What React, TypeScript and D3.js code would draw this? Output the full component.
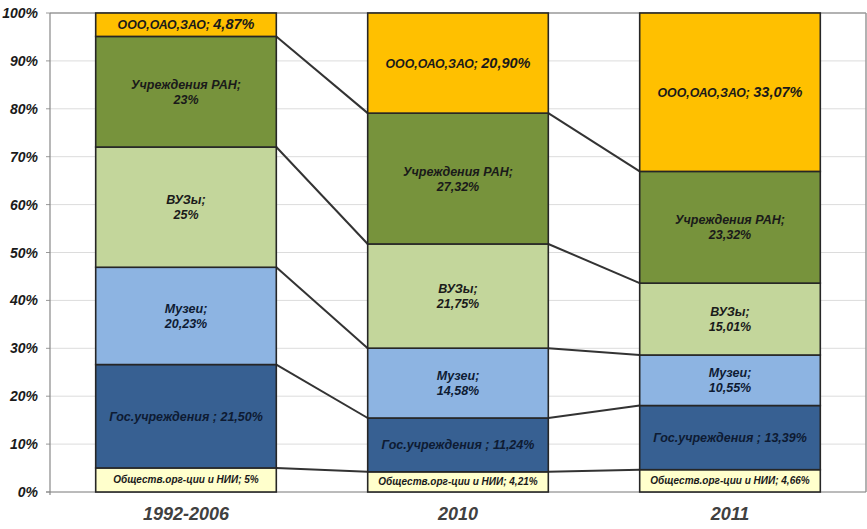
import React from "react";
import * as d3 from "d3";

const categories = ["1992-2006", "2010", "2011"];
const seriesNames = [
  "Обществ.орг-ции и НИИ",
  "Гос.учреждения ",
  "Музеи",
  "ВУЗы",
  "Учреждения РАН",
  "ООО,ОАО,ЗАО",
];
const obshch = [5, 4.21, 4.66];
const gos = [21.5, 11.24, 13.39];
const muzei = [20.23, 14.58, 10.55];
const vuzy = [25, 21.75, 15.01];
const ran = [23, 27.32, 23.32];
const ooo = [4.87, 20.9, 33.07];
const seriesValues = [obshch, gos, muzei, vuzy, ran, ooo];
const seriesColors = ["#FFFFCC", "#376092", "#8DB4E2", "#C3D69B", "#77933C", "#FFC000"];
const yTicks = [0, 0.1, 0.2, 0.3, 0.4, 0.5, 0.6, 0.7, 0.8, 0.9, 1];

const W = 867;
const H = 529;
const left = 50;
const right = 866;
const top = 13;
const bottom = 492;

function fmt(v: number) {
  const s = Number.isInteger(v) ? String(v) : v.toFixed(2).replace(".", ",");
  return s + "%";
}

export default function App() {
  const rows = categories.map((c, i) => {
    const r: any = { cat: c };
    seriesNames.forEach((s, j) => (r[s] = seriesValues[j][i]));
    return r;
  });
  const stack = d3.stack<any>().keys(seriesNames).offset(d3.stackOffsetExpand);
  const stacked = stack(rows);

  const x = d3.scaleBand().domain(categories).range([left, right]).paddingInner(0.336).paddingOuter(0.168);
  const y = d3.scaleLinear().domain([0, 1]).range([bottom, top]);
  const bw = x.bandwidth();

  const font = "'Liberation Sans', Arial, sans-serif";

  const connectors: any[] = [];
  stacked.forEach((layer, j) => {
    if (j === stacked.length - 1) return;
    for (let i = 0; i < categories.length - 1; i++) {
      const x1 = (x(categories[i]) as number) + bw;
      const x2 = x(categories[i + 1]) as number;
      connectors.push(
        <line key={`c${j}-${i}`} x1={x1} x2={x2} y1={y(layer[i][1])} y2={y(layer[i + 1][1])} stroke="#333" strokeWidth={2} />
      );
    }
  });

  return (
    <div style={{ position: "absolute", left: 0, top: 0 }}>
      <svg width={W} height={H} style={{ display: "block", background: "#fff" }}>
        {yTicks.map((t) => (
          <g key={t}>
            <line x1={left} x2={right} y1={y(t)} y2={y(t)} stroke={t === 1 ? "#999" : "#dcdcdc"} strokeWidth={t === 1 ? 1.5 : 1} />
            <line x1={left - 4} x2={left} y1={y(t)} y2={y(t)} stroke="#999" />
            <text x={38} y={y(t) + 5} textAnchor="end" fontFamily={font} fontSize={14} fontWeight="bold" fontStyle="italic" fill="#1a1a1a">
              {Math.round(t * 100)}%
            </text>
          </g>
        ))}
        <line x1={right} x2={right} y1={top} y2={bottom} stroke="#999" strokeWidth={1.5} />
        <line x1={left} x2={left} y1={top} y2={bottom + 3} stroke="#888" strokeWidth={1.2} />
        <line x1={left - 4} x2={right} y1={bottom} y2={bottom} stroke="#888" strokeWidth={1.2} />
        {connectors}
        {stacked.map((layer, j) => (
          <g key={j}>
            {layer.map((d, i) => {
              const bx = x(categories[i]) as number;
              const y0 = y(d[0]);
              const y1 = y(d[1]);
              const cx = bx + bw / 2;
              const cy = (y0 + y1) / 2;
              const v = seriesValues[j][i];
              const name = seriesNames[j];
              let label: any;
              if (j === 0) {
                label = (
                  <text x={cx} y={cy + 3.5} textAnchor="middle" fontSize={10}>
                    {name}; {fmt(v)}
                  </text>
                );
              } else if (j === 1) {
                label = (
                  <text x={cx} y={cy + 4.5} textAnchor="middle" fontSize={12.5} fill="#0e1b33">
                    {name}; {fmt(v)}
                  </text>
                );
              } else if (j === 5) {
                label = (
                  <text x={cx} y={cy + 4.5} textAnchor="middle" fontSize={12.3}>
                    {name};{" "}
                    <tspan fontSize={14.5}>{fmt(v)}</tspan>
                  </text>
                );
              } else {
                label = (
                  <text x={cx} y={cy - 3} textAnchor="middle" fontSize={12.5} fill={j === 2 ? "#0e1b33" : "#1a1a1a"}>
                    <tspan x={cx}>{name};</tspan>
                    <tspan x={cx} dy={15}>{fmt(v)}</tspan>
                  </text>
                );
              }
              return (
                <g key={i}>
                  <rect x={bx} y={y1} width={bw} height={y0 - y1} fill={seriesColors[j]} stroke="#262626" strokeWidth={1.6} />
                  <g fontFamily={font} fontWeight="bold" fontStyle="italic" fill="#1a1a1a">
                    {label}
                  </g>
                </g>
              );
            })}
          </g>
        ))}
        {categories.map((c) => (
          <text key={c} x={(x(c) as number) + bw / 2} y={520} textAnchor="middle" fontFamily={font} fontSize={18} fontWeight="bold" fontStyle="italic" fill="#404040">
            {c}
          </text>
        ))}
      </svg>
    </div>
  );
}
